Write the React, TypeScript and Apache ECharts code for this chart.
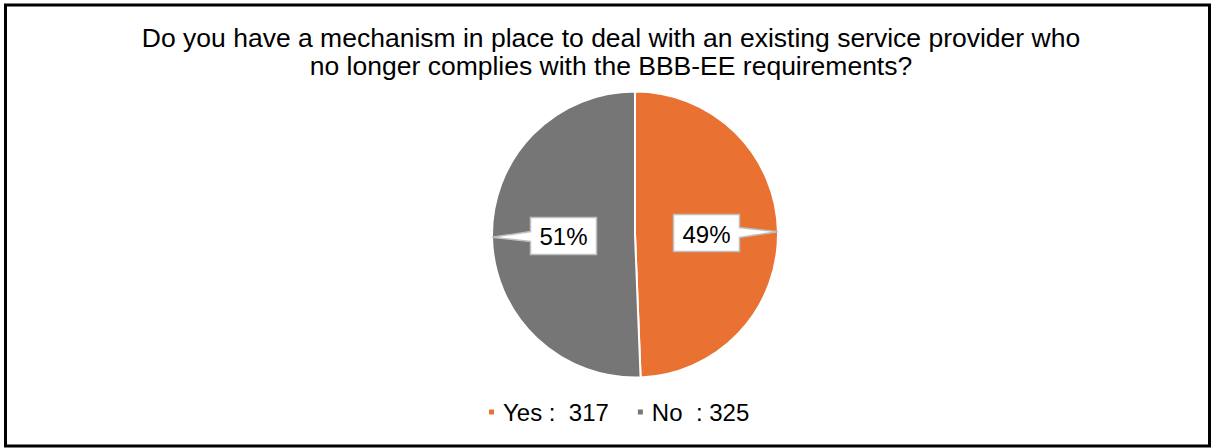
import React, { useEffect, useRef } from "react";
import * as echarts from "echarts";

const titleText =
  "Do you have a mechanism in place to deal with an existing service provider who\nno longer complies with the BBB-EE requirements?";
const categories = ["Yes", "No"];
const values = [317, 325];
const colors = ["#E97132", "#767676"];

const W = 1211;
const H = 448;
const CX = 635;
const CY = 234.5;
const R = 143;
const FONT = "'Liberation Sans', Arial, sans-serif";

function buildCallouts() {
  const total = values.reduce((a, b) => a + b, 0);
  let start = 0;
  const els: any[] = [];
  const hw = 33;
  const hh = 18.5;
  values.forEach((v) => {
    const frac = v / total;
    const mid = (start + frac / 2) * Math.PI * 2;
    start += frac;
    const dx = Math.sin(mid);
    const dy = -Math.cos(mid);
    const bx = CX + 0.5 * R * dx;
    const by = CY + 0.5 * R * dy;
    const tx = CX + R * dx;
    const ty = CY + R * dy;
    const L = bx - hw,
      Rr = bx + hw,
      T = by - hh,
      B = by + hh;
    let pts: number[][];
    if (Math.abs(dx) >= Math.abs(dy)) {
      const ex = dx > 0 ? Rr : L;
      const t = (ex - bx) / (tx - bx);
      const ey = Math.min(B - 6, Math.max(T + 6, by + (ty - by) * t));
      if (dx > 0) {
        pts = [[L, T], [Rr, T], [Rr, ey - 5], [tx, ty], [Rr, ey + 5], [Rr, B], [L, B]];
      } else {
        pts = [[L, T], [Rr, T], [Rr, B], [L, B], [L, ey + 5], [tx, ty], [L, ey - 5]];
      }
    } else {
      const ey = dy > 0 ? B : T;
      const t = (ey - by) / (ty - by);
      const ex = Math.min(Rr - 6, Math.max(L + 6, bx + (tx - bx) * t));
      if (dy < 0) {
        pts = [[L, T], [ex - 5, T], [tx, ty], [ex + 5, T], [Rr, T], [Rr, B], [L, B]];
      } else {
        pts = [[L, T], [Rr, T], [Rr, B], [ex + 5, B], [tx, ty], [ex - 5, B], [L, B]];
      }
    }
    els.push({
      type: "polygon",
      z: 100,
      shape: { points: pts },
      style: { fill: "#ffffff", stroke: "#bfbfbf", lineWidth: 1.5 },
    });
    els.push({
      type: "text",
      z: 101,
      x: bx,
      y: by + 1,
      style: {
        text: Math.round(frac * 100) + "%",
        font: `24px ${FONT}`,
        fill: "#000000",
        align: "center",
        verticalAlign: "middle",
      },
    });
  });
  return els;
}

export default function App() {
  const ref = useRef<HTMLDivElement>(null);
  useEffect(() => {
    if (!ref.current) return;
    const chart = echarts.init(ref.current, undefined, { renderer: "svg" });
    const data = categories.map((c, i) => ({
      name: c,
      value: values[i],
      itemStyle: { color: colors[i] },
    }));
    chart.setOption({
      animation: false,
      backgroundColor: "#ffffff",
      title: {
        text: titleText,
        left: 606,
        textAlign: "center",
        top: 19,
        textStyle: {
          fontFamily: FONT,
          fontSize: 26.5,
          fontWeight: "normal",
          color: "#000000",
          lineHeight: 28,
        },
      },
      legend: {
        left: 482,
        top: 395,
        icon: "rect",
        itemWidth: 7,
        itemHeight: 7,
        itemGap: 27,
        data: categories,
        formatter: (name: string) => {
          const i = categories.indexOf(name);
          return name === "Yes" ? `${name} :  ${values[i]}` : `${name}  : ${values[i]}`;
        },
        textStyle: {
          fontFamily: FONT,
          fontSize: 24,
          color: "#000000",
          padding: [0, 0, 0, 3],
        },
      },
      series: [
        {
          type: "pie",
          center: [CX, CY],
          radius: R,
          startAngle: 90,
          clockwise: true,
          label: { show: false },
          labelLine: { show: false },
          emphasis: { disabled: true },
          itemStyle: { borderColor: "#ffffff", borderWidth: 2 },
          data,
        },
      ],
      graphic: [
        {
          type: "rect",
          z: 0,
          shape: { x: 5.5, y: 5, width: 1204, height: 441 },
          style: { fill: "none", stroke: "#000000", lineWidth: 3 },
        },
        ...buildCallouts(),
      ],
    });
    return () => chart.dispose();
  }, []);
  return (
    <div
      ref={ref}
      style={{ position: "fixed", left: 0, top: 0, width: W, height: H }}
    />
  );
}
